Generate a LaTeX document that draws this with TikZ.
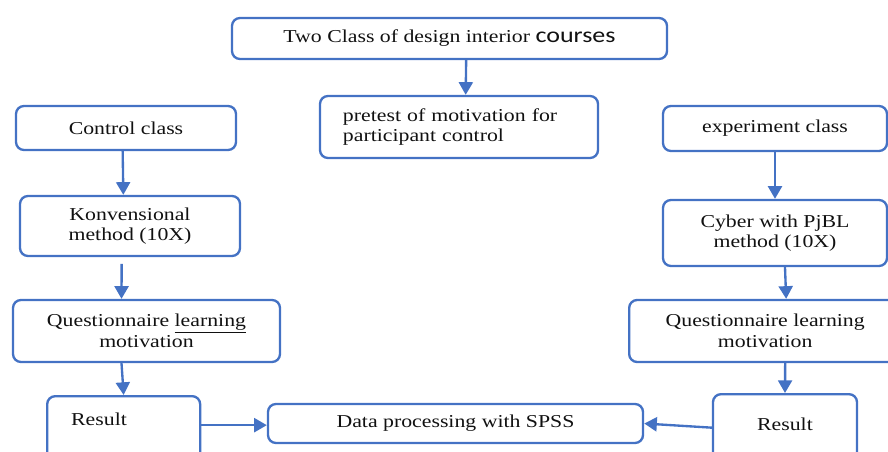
\documentclass[tikz,border=0pt]{standalone}
\usepackage{fontspec}
\setmainfont{Liberation Serif}[FakeStretch=1.2]
\newfontfamily\coursefont{Carlito}[FakeStretch=1.2]
\usepackage{tikz}
\usetikzlibrary{arrows.meta,positioning}
\definecolor{FlowBlue}{HTML}{4472C4}
\definecolor{FlowText}{HTML}{111111}

\begin{document}
\begin{tikzpicture}[
  x=0.03cm, y=-0.03cm,
  box/.style={draw=FlowBlue,line width=2pt,rounded corners=0.24cm,
    text=FlowText,font=\fontsize{15.5}{17.5}\selectfont,align=center,inner sep=0pt},
  link/.style={-{Triangle[length=3.8mm,width=4.2mm]},line width=2pt,FlowBlue}
]
  \useasboundingbox (0,0) rectangle (888,452);

  \node[box, minimum width=13.05cm, minimum height=1.23cm] (top) at (449.5,38.5)
    {Two Class of design interior {\coursefont\fontsize{18.5}{18}\selectfont courses}};
  \node[box, align=left, text width=6.96cm, inner xsep=0.69cm, minimum height=1.86cm] (pre) at (459,127)
    {pretest of motivation for\\participant control};

  % control side
  \node[box, minimum width=6.6cm, minimum height=1.32cm] (ctrl) at (126,128) {Control class};
  \node[box, minimum width=6.6cm, minimum height=1.8cm] (konv) at (130,226) {Konvensional\\method (10X)};
  \node[box, minimum width=8.01cm, minimum height=1.86cm] (qL) at (146.5,331)
    {Questionnaire \underline{learning}\\motivation};
  \node[box, anchor=north west, align=left, text width=3.15cm, inner xsep=0.72cm,
    text height=0.87cm, text depth=1.08cm] (resL) at (46,395) {Result};

  \node[box, minimum width=11.25cm, minimum height=1.17cm] (data) at (455.5,423.5) {Data processing with SPSS};

  % experiment side
  \node[box, minimum width=6.72cm, minimum height=1.35cm] (exp) at (775,128.5) {experiment class};
  \node[box, minimum width=6.72cm, minimum height=1.98cm] (cyber) at (775,233) {Cyber with PjBL\\method (10X)};
  \node[box, anchor=west, minimum width=8.16cm, minimum height=1.86cm] (qR) at (628,331)
    {Questionnaire learning\\motivation};
  \node[box, anchor=north, minimum width=4.32cm, text height=1.08cm, text depth=0.93cm] (resR) at (785,393) {Result};

  \draw[link] ([xshift=0.5cm]top.south) -- ([xshift=0.2cm]pre.north);
  \draw[link] ([xshift=-0.1cm]ctrl.south) -- ([xshift=-0.2cm]konv.north);
  \draw[link] ([xshift=-0.25cm,yshift=-0.2cm]konv.south) -- ([xshift=-0.75cm]qL.north);
  \draw[link] ([xshift=-0.75cm]qL.south) -- (resL.north);
  \draw[link] ([yshift=-0.05cm]resL.east |- data.west) -- ([yshift=-0.05cm]data.west);
  \draw[link] (exp.south) -- (cyber.north);
  \draw[link] ([xshift=0.3cm]cyber.south) -- ([xshift=0.63cm]qR.north);
  \draw[link] ([xshift=0.6cm]qR.south) -- (resR.north);
  \draw[link] (resR.west) -- (data.east);
\end{tikzpicture}
\end{document}
